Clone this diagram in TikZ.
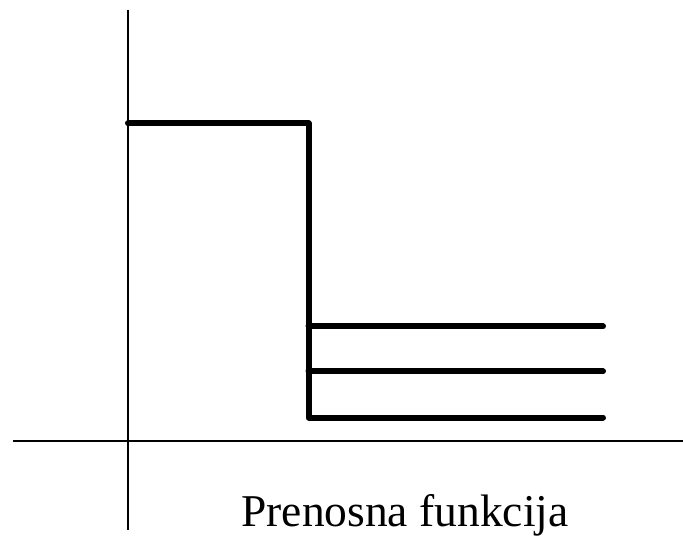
\documentclass[tikz,border=0pt]{standalone}
\usepackage{fontspec}
\setmainfont{Liberation Serif}
\begin{document}
\begin{tikzpicture}[x=1pt,y=-1pt,
  axis/.style={line width=2pt},
  curve/.style={line width=6pt,line cap=round,line join=round}]
\useasboundingbox (0,0) rectangle (683,537);
\coordinate (ytop) at (128,10);
\coordinate (ybot) at (128,530);
\coordinate (xl) at (13,441);
\coordinate (xr) at (683,441);
\draw[axis] (ytop) -- (ybot);
\draw[axis] (xl) -- (xr);
\coordinate (a) at (128,123.5);
\coordinate (b) at (308.5,123.5);
\coordinate (c) at (308.5,417.5);
\coordinate (d) at (603,417.5);
\coordinate (m1) at (308.5,326.5);
\coordinate (e1) at (603,326.5);
\coordinate (m2) at (308.5,371.5);
\coordinate (e2) at (603,371.5);
\draw[curve] (a) -- (b) -- (c) -- (d);
\draw[curve] (m1) -- (e1);
\draw[curve] (m2) -- (e2);
\node[font=\fontsize{45.5}{52}\selectfont, anchor=base, inner sep=0pt] (lbl) at (405,526) {Prenosna funkcija};
\end{tikzpicture}
\end{document}
